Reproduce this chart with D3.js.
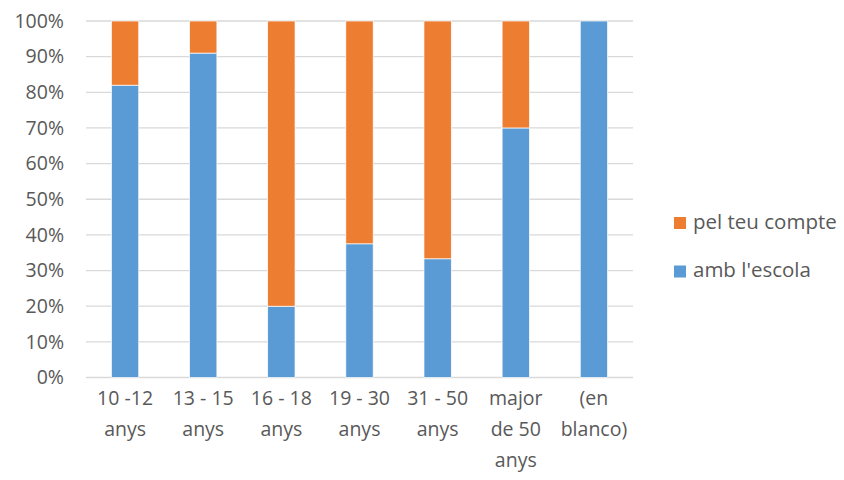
<!DOCTYPE html>
<html>
<head>
<meta charset="utf-8">
<script src="https://cdn.jsdelivr.net/npm/d3@7"></script>
<style>
  body { margin: 0; background: #fff; }
  text { font-family: "Open Sans", sans-serif; fill: #595959; }
</style>
</head>
<body>
<svg id="vis"></svg>
<script>
const width = 844;
const height = 480;
const margin = { top: 21, bottom: 102.5, left: 86, right: 211 };

// data
const categories = [
  ["10 -12", "anys"],
  ["13 - 15", "anys"],
  ["16 - 18", "anys"],
  ["19 - 30", "anys"],
  ["31 - 50", "anys"],
  ["major", "de 50", "anys"],
  ["(en", "blanco)"]
];
const ambEscola = [82, 91, 20, 37.5, 33.3, 70, 100];
const pelTeuCompte = [18, 9, 80, 62.5, 66.7, 30, 0];
const seriesNames = ["amb l'escola", "pel teu compte"];
const seriesColors = ["#5B9BD5", "#ED7D31"];
const yTicks = [0, 10, 20, 30, 40, 50, 60, 70, 80, 90, 100];

const svg = d3.select("svg#vis").attr("width", width).attr("height", height);
const plot = svg.append("g").attr("transform", translate(margin.left, margin.top));

const w = width - margin.left - margin.right;
const h = height - margin.top - margin.bottom;

let x = d3.scaleBand().domain(d3.range(categories.length)).range([0, w]).paddingInner(0.65).paddingOuter(0.325);
let y = d3.scaleLinear().domain([0, 100]).range([h, 0]);

// gridlines
plot.selectAll(".grid")
  .data(yTicks)
  .enter()
  .append("line")
  .attr("x1", 0)
  .attr("x2", w)
  .attr("y1", d => y(d))
  .attr("y2", d => y(d))
  .style("stroke", "#D9D9D9")
  .style("stroke-width", 1.3);

// y labels
plot.selectAll(".ylab")
  .data(yTicks)
  .enter()
  .append("text")
  .attr("x", -22)
  .attr("y", d => y(d))
  .attr("dy", "0.35em")
  .attr("text-anchor", "end")
  .style("font-size", "19.5px")
  .text(d => d + "%");

// stacked bars
let rows = categories.map((c, i) => ({ i: i, a: ambEscola[i], p: pelTeuCompte[i] }));
let stack = d3.stack().keys(["a", "p"])(rows);

plot.selectAll(".series")
  .data(stack)
  .enter()
  .append("g")
  .style("fill", (d, k) => seriesColors[k])
  .selectAll("rect")
  .data(d => d)
  .enter()
  .append("rect")
  .attr("x", d => x(d.data.i))
  .attr("width", x.bandwidth())
  .attr("y", d => y(d[1]))
  .attr("height", d => y(d[0]) - y(d[1]))
  .style("stroke", "#fff")
  .style("stroke-width", 0.7);

// x labels
let xl = plot.selectAll(".xlab")
  .data(categories)
  .enter()
  .append("text")
  .attr("text-anchor", "middle")
  .style("font-size", "19.5px")
  .attr("transform", (d, i) => translate(x(i) + x.bandwidth() / 2, h + 27.5));
xl.selectAll("tspan")
  .data(d => d)
  .enter()
  .append("tspan")
  .attr("x", 0)
  .attr("y", (d, j) => j * 31)
  .text(d => d);

// legend
const legendItems = [1, 0];
let lg = svg.selectAll(".legend")
  .data(legendItems)
  .enter()
  .append("g")
  .attr("transform", (d, j) => translate(674, 217 + j * 48.5));
lg.append("rect")
  .attr("width", 12)
  .attr("height", 12)
  .style("fill", d => seriesColors[d]);
lg.append("text")
  .attr("x", 19)
  .attr("y", 11.5)
  .style("font-size", "20.5px")
  .text(d => seriesNames[d]);

function translate(x, y) {
  return "translate(" + String(x) + "," + String(y) + ")";
}
</script>
</body>
</html>
